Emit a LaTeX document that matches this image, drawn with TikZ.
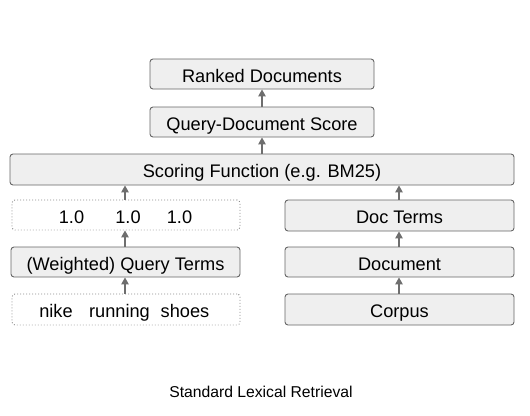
\documentclass[tikz,border=0pt]{standalone}
\usepackage{fontspec}
\setmainfont{Liberation Sans}
\usetikzlibrary{arrows.meta}
\definecolor{boxfill}{HTML}{EFEFEF}
\definecolor{boxline}{HTML}{666666}
\definecolor{dotline}{HTML}{8A8A8A}
\definecolor{arr}{HTML}{6E6E6E}
\tikzset{
  boxtext/.style={font=\fontsize{18.2}{20}\selectfont, text height=16pt, text depth=0pt, inner sep=0pt},
  solidbox/.style={boxtext, draw=boxline, fill=boxfill, rounded corners=3pt, line width=0.9pt},
  dotbox/.style={boxtext, draw=dotline, line width=0.9pt, dash pattern=on 0.9pt off 2.1pt, rounded corners=3pt},
  arrowline/.style={draw=arr, line width=1.2pt, -{Triangle[length=7pt,width=7.5pt]}},
}
\begin{document}
\begin{tikzpicture}[x=1pt,y=-1pt]
\useasboundingbox (0,0) rectangle (530,415);
% boxes
\node[solidbox, minimum width=224pt, minimum height=30pt] (ranked) at (262,74) {Ranked Documents};
\node[solidbox, minimum width=224pt, minimum height=30pt] (qds) at (262,122) {Query-Document Score};
\node[solidbox, minimum width=504pt, minimum height=31pt] (scoring) at (262,169.5) {Scoring Function (e.g. BM25)};
\node[dotbox, minimum width=228pt, minimum height=30pt] (wts) at (126,215) {};
\node[solidbox, minimum width=229pt, minimum height=30pt] (qterms) at (125.5,262) {(Weighted) Query Terms};
\node[dotbox, minimum width=228pt, minimum height=31pt] (query) at (126,309.5) {};
\node[solidbox, minimum width=229pt, minimum height=31pt] (docterms) at (399.5,215.5) {Doc Terms};
\node[solidbox, minimum width=229pt, minimum height=30pt] (doc) at (399.5,262) {Document};
\node[solidbox, minimum width=229pt, minimum height=31pt] (corpus) at (399.5,309.5) {Corpus};
% texts in dotted boxes
\node[boxtext] (w1) at (71.5,215) {1.0};
\node[boxtext] (w2) at (128,215) {1.0};
\node[boxtext] (w3) at (179.5,215) {1.0};
\node[boxtext] (t1) at (56,309.5) {nike};
\node[boxtext] (t2) at (119.5,309.5) {running};
\node[boxtext] (t3) at (185,309.5) {shoes};
% arrows
\coordinate (lx) at (125,0);
\coordinate (rx) at (399,0);
\draw[arrowline] (lx |- query.north) -- (lx |- qterms.south);
\draw[arrowline] (lx |- qterms.north) -- (lx |- wts.south);
\draw[arrowline] (lx |- wts.north) -- (lx |- scoring.south);
\draw[arrowline] (rx |- corpus.north) -- (rx |- doc.south);
\draw[arrowline] (rx |- doc.north) -- (rx |- docterms.south);
\draw[arrowline] (rx |- docterms.north) -- (rx |- scoring.south);
\draw[arrowline] (scoring.north) -- (qds.south);
\draw[arrowline] (qds.north) -- (ranked.south);
% caption
\node[font=\fontsize{15.7}{18}\selectfont, inner sep=0pt] (caption) at (261,391.5) {Standard Lexical Retrieval};
\end{tikzpicture}
\end{document}
